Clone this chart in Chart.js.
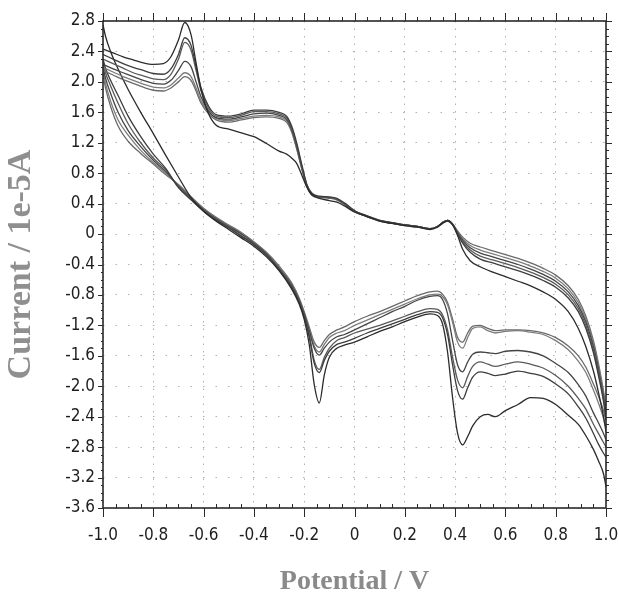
<!DOCTYPE html>
<html>
<head>
<meta charset="utf-8">
<script src="https://cdn.jsdelivr.net/npm/chart.js@4.4.1/dist/chart.umd.min.js"></script>
<style>
  html, body { margin: 0; padding: 0; background: #fff; }
  #cv { display: block; }
</style>
</head>
<body>
<canvas id="cv" width="619" height="606"></canvas>
<script>
// Potential grid of the anodic-to-cathodic sweep (-1.0 V -> 1.0 V)
const potentialFwd = [
  -1.0, -0.96, -0.92, -0.88, -0.84, -0.80, -0.76, -0.73, -0.70, -0.675,
  -0.65, -0.63, -0.61, -0.58, -0.55, -0.50, -0.45, -0.40, -0.35, -0.30,
  -0.27, -0.25, -0.23, -0.21, -0.19, -0.17, -0.14, -0.10, -0.07, -0.04,
  0.0, 0.05, 0.10, 0.15, 0.20, 0.25, 0.30, 0.33, 0.35, 0.37,
  0.39, 0.41, 0.43, 0.46, 0.50, 0.55, 0.60, 0.65, 0.70, 0.75,
  0.80, 0.85, 0.89, 0.92, 0.95, 0.97, 0.99, 1.0
];

// Potential grid of the return sweep (1.0 V -> -1.0 V)
const potentialRev = [
  1.0, 0.99, 0.97, 0.95, 0.92, 0.89, 0.85, 0.80, 0.75, 0.70,
  0.65, 0.60, 0.56, 0.53, 0.50, 0.47, 0.45, 0.43, 0.41, 0.39,
  0.37, 0.35, 0.33, 0.30, 0.25, 0.20, 0.15, 0.10, 0.05, 0.0,
  -0.04, -0.07, -0.10, -0.12, -0.14, -0.16, -0.18, -0.20, -0.22, -0.25,
  -0.30, -0.35, -0.40, -0.45, -0.50, -0.55, -0.60, -0.65, -0.70, -0.75,
  -0.80, -0.85, -0.90, -0.94, -0.97, -0.99, -1.0
];

// Current (1e-5 A), forward sweep, one array per cycle
const fwdCycle1 = [
  2.43, 2.38, 2.33, 2.29, 2.25, 2.23, 2.24, 2.33, 2.55, 2.78,
  2.62, 2.25, 1.90, 1.58, 1.43, 1.38, 1.33, 1.28, 1.19, 1.09,
  1.05, 1.00, 0.93, 0.78, 0.62, 0.52, 0.47, 0.44, 0.42, 0.37,
  0.29, 0.23, 0.17, 0.14, 0.11, 0.09, 0.06, 0.09, 0.14, 0.17,
  0.12, -0.02, -0.20, -0.35, -0.43, -0.50, -0.56, -0.62, -0.68, -0.76,
  -0.86, -1.02, -1.24, -1.48, -1.80, -2.08, -2.40, -2.60
];
const fwdCycle2 = [
  2.36, 2.30, 2.24, 2.19, 2.15, 2.11, 2.10, 2.17, 2.36, 2.58,
  2.48, 2.20, 1.92, 1.68, 1.57, 1.55, 1.58, 1.63, 1.63, 1.60,
  1.55, 1.42, 1.20, 0.92, 0.66, 0.54, 0.50, 0.49, 0.47, 0.41,
  0.31, 0.24, 0.18, 0.15, 0.12, 0.10, 0.07, 0.10, 0.15, 0.18,
  0.13, 0.00, -0.12, -0.24, -0.33, -0.38, -0.43, -0.48, -0.54, -0.61,
  -0.70, -0.84, -1.02, -1.24, -1.56, -1.86, -2.20, -2.44
];
const fwdCycle3 = [
  2.30, 2.24, 2.18, 2.12, 2.08, 2.04, 2.03, 2.10, 2.30, 2.52,
  2.42, 2.15, 1.88, 1.65, 1.55, 1.53, 1.56, 1.61, 1.61, 1.58,
  1.53, 1.40, 1.17, 0.90, 0.65, 0.53, 0.49, 0.48, 0.46, 0.40,
  0.30, 0.24, 0.18, 0.15, 0.12, 0.10, 0.07, 0.10, 0.15, 0.18,
  0.13, 0.01, -0.10, -0.21, -0.29, -0.34, -0.39, -0.44, -0.50, -0.57,
  -0.66, -0.80, -0.98, -1.20, -1.52, -1.82, -2.17, -2.40
];
const fwdCycle4 = [
  2.23, 2.17, 2.12, 2.07, 2.02, 1.98, 1.97, 2.02, 2.15, 2.27,
  2.20, 2.00, 1.80, 1.62, 1.53, 1.51, 1.54, 1.58, 1.59, 1.56,
  1.51, 1.38, 1.15, 0.88, 0.64, 0.52, 0.49, 0.48, 0.46, 0.40,
  0.30, 0.23, 0.18, 0.14, 0.12, 0.10, 0.07, 0.10, 0.15, 0.18,
  0.13, 0.02, -0.08, -0.18, -0.25, -0.30, -0.35, -0.40, -0.46, -0.53,
  -0.62, -0.76, -0.94, -1.16, -1.48, -1.78, -2.14, -2.36
];
const fwdCycle5 = [
  2.19, 2.13, 2.07, 2.02, 1.97, 1.93, 1.92, 1.96, 2.05, 2.12,
  2.07, 1.92, 1.75, 1.60, 1.52, 1.49, 1.52, 1.55, 1.56, 1.54,
  1.49, 1.36, 1.13, 0.87, 0.63, 0.52, 0.49, 0.48, 0.45, 0.39,
  0.30, 0.23, 0.17, 0.14, 0.12, 0.10, 0.07, 0.10, 0.15, 0.18,
  0.13, 0.03, -0.06, -0.15, -0.21, -0.26, -0.31, -0.36, -0.42, -0.49,
  -0.58, -0.72, -0.90, -1.12, -1.44, -1.74, -2.10, -2.32
];
const fwdCycle6 = [
  2.15, 2.09, 2.03, 1.98, 1.93, 1.89, 1.88, 1.92, 2.00, 2.07,
  2.02, 1.88, 1.72, 1.58, 1.50, 1.47, 1.50, 1.53, 1.54, 1.52,
  1.47, 1.34, 1.12, 0.86, 0.63, 0.51, 0.48, 0.47, 0.45, 0.39,
  0.29, 0.23, 0.17, 0.14, 0.11, 0.09, 0.07, 0.10, 0.15, 0.18,
  0.13, 0.04, -0.04, -0.12, -0.17, -0.22, -0.27, -0.32, -0.38, -0.45,
  -0.54, -0.68, -0.86, -1.08, -1.40, -1.70, -2.06, -2.28
];

// Current (1e-5 A), return sweep, one array per cycle
const revCycle1 = [
  -3.32, -3.15, -2.98, -2.83, -2.65, -2.50, -2.38, -2.24, -2.16, -2.15,
  -2.24, -2.32, -2.40, -2.37, -2.40, -2.52, -2.66, -2.77, -2.62, -2.15,
  -1.55, -1.18, -1.07, -1.05, -1.09, -1.15, -1.22, -1.28, -1.35, -1.42,
  -1.46, -1.50, -1.62, -1.85, -2.22, -1.98, -1.45, -1.12, -0.92, -0.72,
  -0.48, -0.30, -0.16, -0.05, 0.06, 0.17, 0.30, 0.48, 0.75, 1.03,
  1.32, 1.60, 1.90, 2.17, 2.40, 2.60, 2.75
];
const revCycle2 = [
  -2.93, -2.88, -2.76, -2.62, -2.42, -2.27, -2.10, -1.97, -1.87, -1.83,
  -1.80, -1.84, -1.86, -1.83, -1.81, -1.88, -2.02, -2.17, -2.06, -1.72,
  -1.32, -1.10, -1.03, -1.02, -1.06, -1.12, -1.18, -1.24, -1.30, -1.37,
  -1.42, -1.45, -1.54, -1.66, -1.82, -1.70, -1.35, -1.09, -0.90, -0.70,
  -0.47, -0.28, -0.14, -0.03, 0.08, 0.18, 0.30, 0.45, 0.61, 0.86,
  1.05, 1.28, 1.55, 1.82, 2.02, 2.18, 2.30
];
const revCycle3 = [
  -2.80, -2.74, -2.62, -2.50, -2.30, -2.16, -2.00, -1.86, -1.76, -1.71,
  -1.68, -1.71, -1.74, -1.71, -1.68, -1.74, -1.87, -2.02, -1.92, -1.62,
  -1.26, -1.06, -0.99, -0.98, -1.02, -1.08, -1.14, -1.20, -1.25, -1.30,
  -1.36, -1.40, -1.50, -1.62, -1.78, -1.66, -1.32, -1.07, -0.88, -0.68,
  -0.46, -0.27, -0.13, -0.02, 0.09, 0.19, 0.31, 0.46, 0.62, 0.84,
  1.00, 1.20, 1.45, 1.72, 1.95, 2.12, 2.25
];
const revCycle4 = [
  -2.70, -2.62, -2.48, -2.35, -2.13, -1.98, -1.82, -1.70, -1.60, -1.55,
  -1.53, -1.54, -1.57, -1.56, -1.55, -1.58, -1.68, -1.81, -1.72, -1.40,
  -1.05, -0.86, -0.81, -0.82, -0.87, -0.95, -1.02, -1.10, -1.18, -1.26,
  -1.32, -1.35, -1.42, -1.50, -1.59, -1.50, -1.27, -1.05, -0.87, -0.67,
  -0.45, -0.26, -0.12, 0.00, 0.10, 0.20, 0.32, 0.47, 0.63, 0.82,
  0.97, 1.15, 1.36, 1.60, 1.85, 2.05, 2.20
];
const revCycle5 = [
  -2.55, -2.42, -2.22, -2.05, -1.82, -1.67, -1.52, -1.40, -1.32, -1.29,
  -1.27, -1.28, -1.30, -1.27, -1.22, -1.24, -1.36, -1.50, -1.42, -1.16,
  -0.93, -0.82, -0.79, -0.80, -0.85, -0.92, -0.99, -1.06, -1.13, -1.20,
  -1.27, -1.30, -1.36, -1.45, -1.55, -1.47, -1.25, -1.04, -0.86, -0.66,
  -0.44, -0.25, -0.11, 0.01, 0.11, 0.21, 0.33, 0.48, 0.64, 0.80,
  0.94, 1.10, 1.30, 1.50, 1.75, 1.98, 2.15
];
const revCycle6 = [
  -2.45, -2.32, -2.13, -1.97, -1.75, -1.60, -1.47, -1.36, -1.30, -1.27,
  -1.26, -1.26, -1.27, -1.24, -1.20, -1.21, -1.30, -1.42, -1.36, -1.12,
  -0.90, -0.79, -0.75, -0.76, -0.81, -0.88, -0.95, -1.02, -1.08, -1.15,
  -1.22, -1.26, -1.32, -1.40, -1.49, -1.42, -1.22, -1.02, -0.84, -0.64,
  -0.42, -0.24, -0.10, 0.02, 0.12, 0.22, 0.34, 0.49, 0.65, 0.78,
  0.92, 1.06, 1.22, 1.42, 1.68, 1.92, 2.10
];

const cycleColors = ['#2b2b2b', '#3d3d3d', '#5a5a5a', '#444444', '#7c7c7c', '#6a6a6a'];

const fwdCycles = [fwdCycle1, fwdCycle2, fwdCycle3, fwdCycle4, fwdCycle5, fwdCycle6];
const revCycles = [revCycle1, revCycle2, revCycle3, revCycle4, revCycle5, revCycle6];

const sweep = (potentials, currents, color) => ({
  data: currents.map((c, i) => ({ x: potentials[i], y: c })),
  showLine: true,
  borderColor: color,
  borderWidth: 1.3,
  pointRadius: 0,
  cubicInterpolationMode: 'monotone',
  fill: false
});

const datasets = [];
fwdCycles.forEach((cur, i) => datasets.push(sweep(potentialFwd, cur, cycleColors[i])));
revCycles.forEach((cur, i) => datasets.push(sweep(potentialRev, cur, cycleColors[i])));

const tickFont = { family: '"Liberation Sans Narrow", "DejaVu Sans Condensed", "Liberation Sans", Arial, sans-serif', size: 17 };
const titleFont = (size) => ({ family: '"Liberation Serif", "Times New Roman", serif', size: size, weight: 'bold' });
const fmt = v => Math.abs(v) < 1e-9 ? '0' : Number(v).toFixed(1);

// Box round the plot with inner/outer tick marks on all four sides
const frameTicks = {
  id: 'frameTicks',
  afterDraw(chart) {
    const { ctx, chartArea: a, scales: { x, y } } = chart;
    ctx.save();
    ctx.strokeStyle = '#2a2a2a';
    ctx.lineWidth = 1;
    ctx.beginPath();
    for (let k = 0; k <= 40; k++) {
      const v = -1 + k * 0.05;
      const px = Math.round(x.getPixelForValue(v)) + 0.5;
      const major = k % 4 === 0;
      if (major) {
        ctx.moveTo(px, a.bottom); ctx.lineTo(px, a.bottom + 9);
        ctx.moveTo(px, a.top); ctx.lineTo(px, a.top - 8);
      } else {
        ctx.moveTo(px, a.bottom); ctx.lineTo(px, a.bottom - 4);
        ctx.moveTo(px, a.top); ctx.lineTo(px, a.top - 4);
      }
    }
    for (let k = 0; k <= 64; k++) {
      const v = -3.6 + k * 0.1;
      const py = Math.round(y.getPixelForValue(v)) + 0.5;
      const major = k % 4 === 0;
      ctx.moveTo(a.left, py); ctx.lineTo(a.left - (major ? 5 : 2), py);
      ctx.moveTo(a.right, py); ctx.lineTo(a.right + (major ? 6 : 3), py);
    }
    ctx.stroke();
    ctx.lineWidth = 1.6;
    ctx.strokeRect(a.left, a.top, a.right - a.left, a.bottom - a.top);
    ctx.restore();
  }
};

new Chart(document.getElementById('cv'), {
  type: 'scatter',
  data: { datasets },
  options: {
    responsive: false,
    animation: false,
    layout: { padding: { top: 21, right: 13, left: 0, bottom: 0 } },
    plugins: { legend: { display: false }, tooltip: { enabled: false } },
    scales: {
      x: {
        type: 'linear',
        min: -1,
        max: 1,
        afterFit: s => { s.height = 98; s.paddingLeft = 0; s.paddingRight = 0; },
        ticks: { stepSize: 0.2, padding: 17, maxRotation: 0, color: '#1e1e1e', font: tickFont, callback: fmt },
        grid: { color: '#b0b0b0', lineWidth: 1, drawTicks: false },
        border: { display: false, dash: [1.5, 6] },
        title: { display: true, text: 'Potential / V', color: '#8a8a8a', font: titleFont(28), padding: { top: 0, bottom: 7 } }
      },
      y: {
        type: 'linear',
        min: -3.6,
        max: 2.8,
        afterFit: s => { s.width = 103; s.paddingTop = 0; s.paddingBottom = 0; },
        ticks: { stepSize: 0.4, padding: 8, color: '#1e1e1e', font: tickFont, callback: fmt },
        grid: { color: '#b0b0b0', lineWidth: 1, drawTicks: false },
        border: { display: false, dash: [1.5, 11] },
        title: { display: true, text: 'Current / 1e-5A', color: '#8f8f8f', font: titleFont(34), padding: { top: 1, bottom: 0 } }
      }
    }
  },
  plugins: [frameTicks]
});
</script>
</body>
</html>
